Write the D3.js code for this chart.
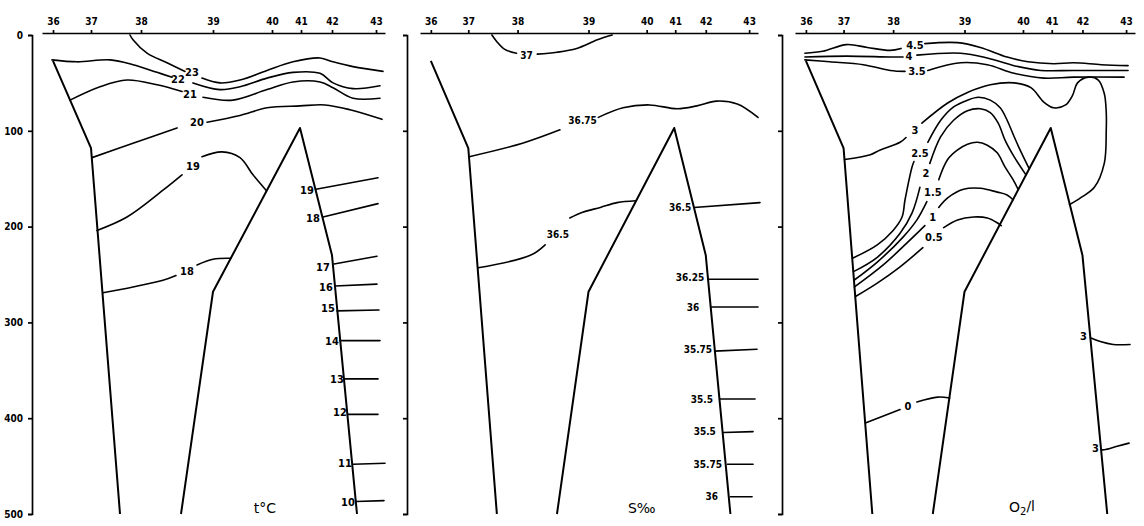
<!DOCTYPE html>
<html><head><meta charset="utf-8">
<script src="https://cdn.jsdelivr.net/npm/d3@7"></script>
<style>
body{margin:0;background:#fff;}
svg{display:block;}
text{font-family:"DejaVu Sans Condensed","DejaVu Sans",sans-serif;font-weight:bold;fill:#000;}
</style></head><body>
<svg id="chart" width="1144" height="526"></svg>
<script>
// ---------- data ----------
const stationLabels = ["36","37","38","39","40","41","42","43"];
const stationDist   = [0, 38, 88, 160, 219, 248, 279, 323];   // along-section distance
const depthTicks    = [0, 100, 200, 300, 400, 500];
const distExtent    = [-11, 332];
const depthExtent   = [0, 500];

// bottom profile [distance, depth]
const shelfWall = [[0,27],[38,118],[67,500]];
const ridge     = [[128,500],[160,268],[247,97],[279,230],[304,500]];

// temperature isotherms (°C); null = gap for the label
const temperatureContours = [
  {label:"23", at:[139,39], pts:[[77,0],[80,5],[94,19],[114,29],[132,38],null,[149,45],[167,50],[187,47],[214,37],[240,28],[267,24],[280,28],[300,33],[330,38]]},
  {label:"22", at:[125,46], pts:[[-1,26],[24,28],[57,26],[80,31],[104,39],[119,44],null,[140,50],[167,57],[187,54],[214,45],[240,39],[267,40],[280,50],[300,56],[327,53]]},
  {label:"21", at:[137,62], pts:[[17,68],[47,54],[74,47],[104,52],[129,59],null,[150,65],[180,68],[214,57],[240,49],[267,49],[280,55],[300,66],[327,66]]},
  {label:"20", at:[144,91], pts:[[39,128],[80,113],[124,97],null,[154,91],[187,84],[214,76],[247,74],[272,73],[297,78],[329,88]]},
  {label:"19", at:[140,137], pts:[[44,204],[74,190],[110,162],[129,146],null,[149,127],[169,122],[187,128],[200,146],[213,162]]},
  {label:"19", at:[254,162], pts:[[263,161],[325,149]]},
  {label:"18", at:[260,191], pts:[[270,190],[325,176]]},
  {label:"18", at:[134,246], pts:[[50,269],[80,263],[110,256],[123,251],null,[144,240],[160,234],[178,233]]},
  {label:"17", at:[270,242], pts:[[281,239],[324,231]]},
  {label:"16", at:[273,263], pts:[[282,262],[324,260]]},
  {label:"15", at:[275,285], pts:[[284,288],[326,287]]},
  {label:"14", at:[279,319], pts:[[287,319],[327,319]]},
  {label:"13", at:[284,359], pts:[[291,359],[325,359]]},
  {label:"12", at:[287,394], pts:[[295,396],[325,396]]},
  {label:"11", at:[292,447], pts:[[300,448],[332,447]]},
  {label:"10", at:[295,487], pts:[[303,487],[331,486]]}
];

// salinity isohalines (‰)
const salinityContours = [
  {label:"37",    at:[97,21],   pts:[[62,0],[67,7],[75,15],[87,19],null,[108,20],[128,18],[148,14],[169,5],[184,0]]},
  {label:"36.75", at:[154,89],  pts:[[39,127],[93,113],[131,99],null,[170,86],[195,76],[222,73],[250,77],[270,74],[290,69],[311,72],[332,86]]},
  {label:"36.5",  at:[129,208], pts:[[48,243],[101,230],[116,219],null,[141,191],[154,185],[172,180],[189,175],[208,173]]},
  {label:"36.5",  at:[253,180], pts:[[267,180],[334,175]]},
  {label:"36.25", at:[263,253], pts:[[281,255],[332,255]]},
  {label:"36",    at:[266,284], pts:[[285,284],[332,284]]},
  {label:"35.75", at:[271,328], pts:[[288,330],[331,328]]},
  {label:"35.5",  at:[275,380], pts:[[293,380],[329,380]]},
  {label:"35.5",  at:[278,414], pts:[[297,415],[327,414]]},
  {label:"35.75", at:[281,448], pts:[[301,448],[327,448]]},
  {label:"36",    at:[285,482], pts:[[304,482],[326,482]]}
];

// dissolved oxygen (ml/l)
const oxygenContours = [
  {label:"4.5", at:[110,10], pts:[[-1,19],[17,17],[41,10],[62,13],[85,16],[96,14],null,[120,9],[153,8],[176,13],[203,23],[224,28],[250,30],[270,29],[298,31],[325,32]]},
  {label:"4",   at:[104,22], pts:[[-1,23],[41,22],[85,23],[98,23],null,[112,21],[156,19],[183,24],[210,32],[237,37],[270,37],[325,37]]},
  {label:"3.5", at:[112,38], pts:[[-1,26],[24,28],[58,31],[85,37],[100,38],null,[123,37],[156,29],[183,31],[210,40],[240,45],[270,44],[321,44]]},
  {label:"3",   at:[110,99], pts:[[39,130],[65,125],[75,120],[95,112],[101,107],null,[117,92],[143,71],[163,60],[186,52],[210,50],[227,55],[240,70],[250,76],[262,73],[269,63],[274,50],[285,44],[295,47],[301,61],[303,81],[303,99],[301,134],[291,159],[277,170],[266,177]]},
  {label:"2.5", at:[115,123], pts:[[47,233],[72,219],[88,204],[97,190],[100,172],[107,138],[109,132],null,[123,112],[136,89],[149,75],[163,68],[174,65],[186,68],[196,76],[203,89],[210,106],[217,122],[225,139]]},
  {label:"2",   at:[121,144], pts:[[48,247],[72,232],[95,207],[107,186],[115,159],null,[125,134],[136,106],[149,89],[163,79],[176,77],[186,81],[194,92],[201,110],[210,127],[222,146]]},
  {label:"1.5", at:[128,164], pts:[[48.5,256],[72,237],[98,211],[112,193],[122,174],null,[134,151],[143,130],[153,120],[163,114],[173,112],[183,115],[193,123],[201,138],[209,151],[214,161]]},
  {label:"1",   at:[128,190], pts:[[49,263],[78,240],[102,217],[120,199],null,[134,180],[143,170],[159,161],[176,160],[193,164],[203,167],[209,172]]},
  {label:"0.5", at:[129,211], pts:[[50,273],[72,259],[95,242],[118,222],null,[139,201],[153,193],[169,190],[183,191],[193,196],[197,199]]},
  {label:"0",   at:[103,387], pts:[[60,405],[95,391],null,[112,383],[133,378],[145,379]]},
  {label:"3",   at:[280,314], pts:[[287,316],[297,320],[310,323],[327,323]]},
  {label:"3",   at:[292,431], pts:[[298,433],[301,433],[315,429],[326,426]]}
];

const panelTitles = ["t°C", "S‰", "O₂/l"];
const titleDist   = [212, 214, 218];
const titleDepth  = [494, 494, 493];

// ---------- layout ----------
const panels = [
  {x0:42,  x1:385,  axisX:32,  depthLabels:true,  contours:temperatureContours, fs:11},
  {x0:420, x1:758,  axisX:407, depthLabels:false, contours:salinityContours,    fs:10},
  {x0:795, x1:1135, axisX:782, depthLabels:false, contours:oxygenContours,      fs:11}
];
const svg = d3.select("#chart");
const y = d3.scaleLinear().domain(depthExtent).range([35, 514]);
const fontStack = '"DejaVu Sans Condensed","DejaVu Sans",sans-serif';

panels.forEach((p, pi) => {
  const x = d3.scaleLinear().domain(distExtent).range([p.x0, p.x1]);
  const g = svg.append("g");
  const smooth = d3.line().defined(d => d !== null).x(d => x(d[0])).y(d => y(d[1]))
    .curve(d3.curveCatmullRom.alpha(0.5));
  const straight = d3.line().x(d => x(d[0])).y(d => y(d[1]));

  // top station axis
  const top = g.append("g").attr("transform", "translate(0,33)")
    .call(d3.axisTop(x).tickValues(stationDist).tickFormat((d,i) => stationLabels[i])
      .tickSize(3).tickSizeOuter(0).tickPadding(5));
  top.selectAll("path,line").attr("stroke","#000").attr("stroke-width",1.7);
  top.selectAll("text").style("font-size","10px").style("font-weight","bold")
     .style("font-family", fontStack);

  // depth axis
  const left = g.append("g").attr("transform", `translate(${p.axisX},0)`)
    .call(d3.axisLeft(y).tickValues(depthTicks)
      .tickFormat(p.depthLabels ? d3.format("d") : () => "")
      .tickSize(4).tickPadding(5));
  left.selectAll("path,line").attr("stroke","#000").attr("stroke-width",1.7);
  left.selectAll("text").style("font-size","10px").style("font-weight","bold")
     .style("font-family", fontStack);

  // contours
  g.selectAll("path.contour").data(p.contours).join("path")
    .attr("class","contour")
    .attr("d", c => smooth(c.pts))
    .attr("fill","none").attr("stroke","#000").attr("stroke-width",1.6)
    .attr("stroke-linejoin","round").attr("stroke-linecap","round");

  g.selectAll("text.clabel").data(p.contours).join("text")
    .attr("class","clabel")
    .attr("x", c => x(c.at[0])).attr("y", c => y(c.at[1]))
    .attr("dy","0.36em").attr("text-anchor","middle")
    .style("font-size", p.fs + "px")
    .text(c => c.label);

  // bottom profile
  [shelfWall, ridge].forEach(b => {
    g.append("path").attr("d", straight(b)).attr("fill","none")
      .attr("stroke","#000").attr("stroke-width",2).attr("stroke-linejoin","round");
  });

  // panel title
  const t = g.append("text")
    .attr("x", x(titleDist[pi])).attr("y", y(titleDepth[pi]))
    .attr("dy","0.36em").attr("text-anchor","middle")
    .style("font-size","14px").style("font-weight","normal")
    .style("font-family",'"DejaVu Sans","Noto Sans",sans-serif');
  const title = panelTitles[pi];
  if (title.indexOf("₂") >= 0) {
    const parts = title.split("₂");
    t.append("tspan").text(parts[0]);
    t.append("tspan").attr("dy","0.3em").style("font-size","10px").text("2");
    t.append("tspan").attr("dy","-0.3em").text(parts[1]);
  } else {
    t.text(title);
  }
});
</script>
</body></html>
